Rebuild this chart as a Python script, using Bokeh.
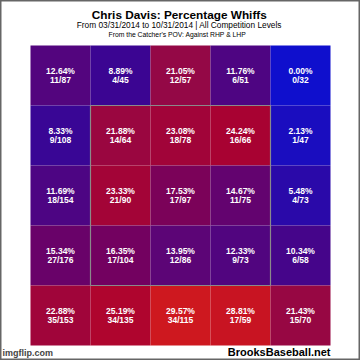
from bokeh.plotting import figure
from bokeh.models import Range1d, ColumnDataSource, LinearColorMapper
from bokeh.core.properties import value
from bokeh.embed import file_html
from bokeh.resources import INLINE

# rows listed top to bottom (catcher's POV), columns left to right
whiffs = [
    [11, 4, 12, 6, 0],
    [9, 14, 18, 16, 1],
    [18, 21, 17, 11, 4],
    [27, 17, 12, 9, 6],
    [35, 34, 34, 17, 15],
]
pitches = [
    [87, 45, 57, 51, 32],
    [108, 64, 78, 66, 47],
    [154, 90, 97, 75, 73],
    [176, 104, 86, 73, 58],
    [153, 135, 115, 59, 70],
]
title = "Chris Davis: Percentage Whiffs"
subtitle = "From 03/31/2014 to 10/31/2014 | All Competition Levels"
subtitle2 = "From the Catcher's POV:   Against RHP & LHP"
credit = "BrooksBaseball.net"

# colour palette blue -> red (piecewise)
anchors = [(0.0, (15, 15, 205)), (9.0, (60, 5, 145)), (14.0, (92, 5, 118)),
           (16.0, (112, 0, 98)), (21.0, (148, 8, 70)), (24.5, (170, 2, 48)),
           (30.0, (208, 25, 30))]
palette = []
for i in range(256):
    v = 30.0 * i / 255
    for (a, ca), (b, cb) in zip(anchors[:-1], anchors[1:]):
        if a <= v <= b:
            t = (v - a) / (b - a)
            col = tuple(int(round(ca[k] + (cb[k] - ca[k]) * t)) for k in range(3))
            break
    palette.append("#%02x%02x%02x" % col)
mapper = LinearColorMapper(palette=palette, low=0, high=30)

xs, ys, pv, pct_txt, cnt_txt = [], [], [], [], []
for r in range(5):
    for c in range(5):
        w, n = whiffs[r][c], pitches[r][c]
        p = 100.0 * w / n
        xs.append(c + 0.5)
        ys.append(4.5 - r)
        pv.append(p)
        pct_txt.append("%.2f%%" % p)
        cnt_txt.append("%d/%d" % (w, n))
src = ColumnDataSource(dict(x=xs, y=ys, v=pv, pct=pct_txt, cnt=cnt_txt,
                            y1=[y + 0.075 for y in ys], y2=[y - 0.075 for y in ys]))

W, H = 360, 360
top = 5 + 45 / 60
p = figure(width=W, height=H, output_backend="svg", toolbar_location=None,
           x_range=Range1d(-30 / 60, (W - 30) / 60),
           y_range=Range1d(-(H - 345) / 60, top),
           min_border=0)
p.axis.visible = False
p.grid.visible = False
p.background_fill_color = "white"
p.border_fill_color = "white"
p.outline_line_color = "#666666"
p.outline_line_width = 2

p.rect(x="x", y="y", width=1, height=1, source=src,
       fill_color={"field": "v", "transform": mapper}, line_color=None)
# strike zone
p.rect(x=[2.5], y=[2.5], width=3, height=3, fill_color=None,
       line_color="#8a8a8a", line_width=1.2)

font = value("Liberation Sans")
p.text(x="x", y="y1", text="pct", source=src, text_color="white",
       text_font=font, text_font_style="bold", text_font_size="8.5px",
       text_align="center", text_baseline="middle")
p.text(x="x", y="y2", text="cnt", source=src, text_color="white",
       text_font=font, text_font_style="bold", text_font_size="8.5px",
       text_align="center", text_baseline="middle")

p.text(x=[2.48], y=[top - 14.5 / 60], text=[title], text_font=font,
       text_font_style="bold", text_font_size="11.8px", text_color="black",
       text_align="center", text_baseline="middle")
p.text(x=[2.48], y=[top - 24.5 / 60], text=[subtitle], text_font=font,
       text_font_size="8.3px", text_color="black",
       text_align="center", text_baseline="middle")
p.text(x=[2.48], y=[top - 33.5 / 60], text=[subtitle2], text_font=font,
       text_font_size="6.8px", text_color="black",
       text_align="center", text_baseline="middle")
p.text(x=[5.0], y=[top - 357 / 60], text=[credit], text_font=font,
       text_font_style="bold", text_font_size="11px", text_color="black",
       text_align="right", text_baseline="bottom")
p.text(x=[-28 / 60], y=[top - 357 / 60], text=["imgflip.com"], text_font=font,
       text_font_style="bold", text_font_size="9px", text_color="#444444",
       text_align="left", text_baseline="bottom")

open("out.html", "w").write(file_html(p, INLINE))
